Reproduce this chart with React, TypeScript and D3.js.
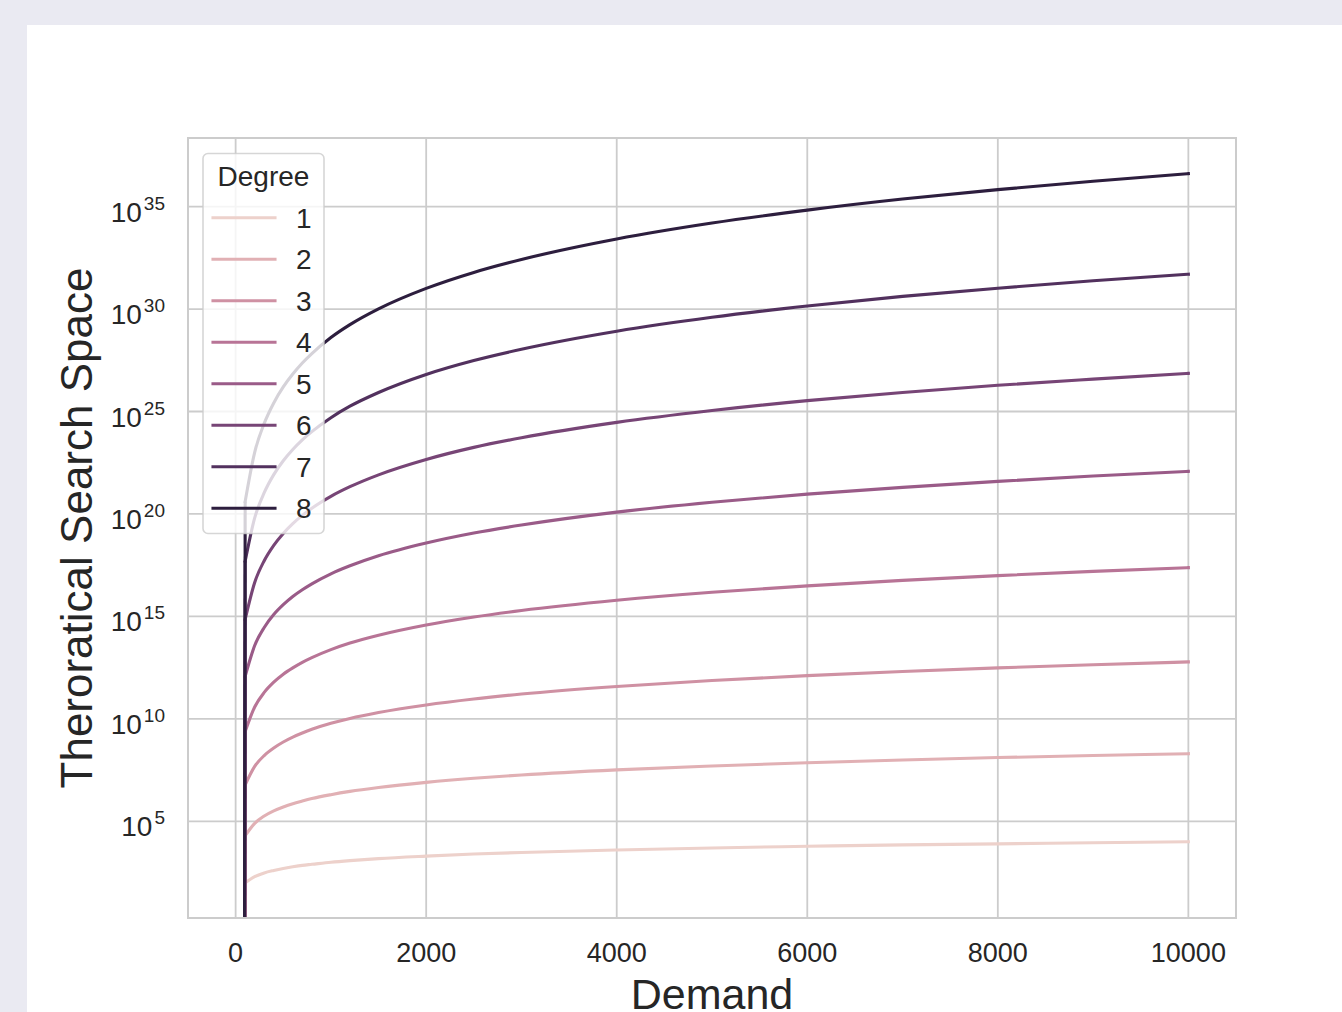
import React from "react";
import * as d3 from "d3";

// Demand values sampled along the x axis
const DEMAND = [0, 100, 200, 300, 400, 500, 600, 700, 800, 1000, 1200, 1500, 2000, 2500, 3000, 4000, 5000, 6000, 7000, 8000, 9000, 10000];

// log10(Theoretical search space); null = 0 (non-positive, clipped on the log axis)
const DEG1 = [null, 2.0, 2.3, 2.48, 2.6, 2.7, 2.78, 2.85, 2.9, 3.0, 3.08, 3.18, 3.3, 3.4, 3.48, 3.6, 3.7, 3.78, 3.85, 3.9, 3.95, 4.0];
const DEG2 = [null, 4.3, 4.9, 5.26, 5.51, 5.7, 5.86, 5.99, 6.11, 6.3, 6.46, 6.65, 6.9, 7.1, 7.26, 7.51, 7.7, 7.86, 7.99, 8.11, 8.21, 8.3];
const DEG3 = [null, 6.78, 7.68, 8.21, 8.58, 8.87, 9.11, 9.31, 9.49, 9.78, 10.02, 10.31, 10.68, 10.97, 11.21, 11.58, 11.87, 12.11, 12.31, 12.49, 12.64, 12.78];
const DEG4 = [null, 9.38, 10.58, 11.29, 11.79, 12.18, 12.49, 12.76, 12.99, 13.38, 13.7, 14.08, 14.58, 14.97, 15.29, 15.79, 16.18, 16.49, 16.76, 16.99, 17.2, 17.38];
const DEG5 = [null, 12.08, 13.58, 14.46, 15.09, 15.57, 15.97, 16.3, 16.59, 17.08, 17.47, 17.96, 18.58, 19.07, 19.46, 20.09, 20.57, 20.97, 21.3, 21.59, 21.85, 22.08];
const DEG6 = [null, 14.86, 16.66, 17.72, 18.47, 19.05, 19.53, 19.93, 20.28, 20.86, 21.33, 21.91, 22.66, 23.25, 23.72, 24.47, 25.05, 25.53, 25.93, 26.28, 26.58, 26.86];
const DEG7 = [null, 17.7, 19.81, 21.04, 21.92, 22.6, 23.15, 23.62, 24.02, 24.7, 25.26, 25.93, 26.81, 27.49, 28.04, 28.92, 29.6, 30.15, 30.62, 31.02, 31.38, 31.7];
const DEG8 = [null, 20.61, 23.01, 24.42, 25.42, 26.2, 26.83, 27.37, 27.83, 28.61, 29.24, 30.01, 31.01, 31.79, 32.42, 33.42, 34.2, 34.83, 35.37, 35.83, 36.24, 36.61];

const DEGREES = [1, 2, 3, 4, 5, 6, 7, 8];
const SERIES = [DEG1, DEG2, DEG3, DEG4, DEG5, DEG6, DEG7, DEG8];
const COLORS = ["#edd1cb", "#e1b0b4", "#cf91a3", "#b87496", "#9a5b88", "#774576", "#52315e", "#2d1e3e"];

const X_TICKS = [0, 2000, 4000, 6000, 8000, 10000];
const Y_TICK_EXPONENTS = [5, 10, 15, 20, 25, 30, 35];

const X_LABEL = "Demand";
const Y_LABEL = "Theroratical Search Space";
const LEGEND_TITLE = "Degree";

const FONT = "'Liberation Sans', Arial, Helvetica, sans-serif";
const TEXT = "#262626";
const GRID = "#cccccc";

export default function App() {
  const W = 1342;
  const H = 1012;
  const left = 188, right = 1236, top = 138, bottom = 918;

  const x = d3.scaleLinear().domain([-500, 10500]).range([left, right]);
  const y = d3.scaleLog().domain([Math.pow(10, 0.28), Math.pow(10, 38.35)]).range([bottom, top]);

  const yOf = (v: number | null) => (v === null ? y(1e-300) : y(Math.pow(10, v)));

  // the drop to a non-positive value is a straight segment; the rest is a smooth curve
  const dropLine = d3
    .line<[number, number | null]>()
    .x((d) => x(d[0]))
    .y((d) => yOf(d[1]))
    .curve(d3.curveLinear);
  const smoothLine = d3
    .line<[number, number | null]>()
    .x((d) => x(d[0]))
    .y((d) => yOf(d[1]))
    .curve(d3.curveMonotoneX);

  const legendX = 203, legendY = 153.5, legendW = 121, legendH = 380;

  return (
    <svg
      width={W}
      height={H}
      style={{ position: "absolute", left: 0, top: 0, display: "block" }}
      fontFamily={FONT}
    >
      <defs>
        <clipPath id="plot-clip">
          <rect x={left} y={top} width={right - left} height={bottom - top} />
        </clipPath>
      </defs>
      <rect x={0} y={0} width={W} height={H} fill="#eaeaf2" />
      <rect x={27} y={25} width={W - 27} height={H - 25} fill="#ffffff" />

      {/* grid */}
      <g stroke={GRID} strokeWidth={1.8}>
        {X_TICKS.map((t) => (
          <line key={"gx" + t} x1={x(t)} x2={x(t)} y1={top} y2={bottom} />
        ))}
        {Y_TICK_EXPONENTS.map((e) => (
          <line key={"gy" + e} x1={left} x2={right} y1={y(Math.pow(10, e))} y2={y(Math.pow(10, e))} />
        ))}
      </g>

      {/* lines */}
      <g clipPath="url(#plot-clip)" fill="none">
        {SERIES.map((s, i) => {
          const pts = DEMAND.map((dm, j) => [dm, s[j]] as [number, number | null]);
          const dropPts = pts.slice(0, 2);
          const restPts = pts.slice(1);
          return (
            <g key={"s" + i} stroke={COLORS[i]} strokeWidth={3.1} strokeLinejoin="round">
              <path d={dropLine(dropPts) || ""} strokeLinecap="butt" />
              <path d={smoothLine(restPts) || ""} strokeLinecap="square" />
            </g>
          );
        })}
      </g>

      {/* spines */}
      <rect x={left} y={top} width={right - left} height={bottom - top} fill="none" stroke={GRID} strokeWidth={2} />

      {/* x tick labels */}
      <g fontSize={27} fill={TEXT} textAnchor="middle">
        {X_TICKS.map((t) => (
          <text key={"xl" + t} x={x(t)} y={962}>
            {t}
          </text>
        ))}
      </g>

      {/* y tick labels */}
      <g fill={TEXT} textAnchor="end">
        {Y_TICK_EXPONENTS.map((e) => (
          <text key={"yl" + e} x={165} y={y(Math.pow(10, e)) + 15} fontSize={28}>
            <tspan>10</tspan>
            <tspan dx={2} dy={-12} fontSize={19}>
              {e}
            </tspan>
          </text>
        ))}
      </g>

      {/* axis labels */}
      <text x={(left + right) / 2} y={1009} textAnchor="middle" fontSize={43} fill={TEXT}>
        {X_LABEL}
      </text>
      <text
        transform={`translate(92, ${(top + bottom) / 2}) rotate(-90)`}
        textAnchor="middle"
        fontSize={44}
        fill={TEXT}
      >
        {Y_LABEL}
      </text>

      {/* legend */}
      <rect
        x={legendX}
        y={legendY}
        width={legendW}
        height={legendH}
        rx={5}
        ry={5}
        fill="#ffffff"
        fillOpacity={0.8}
        stroke={GRID}
        strokeOpacity={0.8}
        strokeWidth={1.6}
      />
      <text x={legendX + legendW / 2} y={186} textAnchor="middle" fontSize={28} fill={TEXT}>
        {LEGEND_TITLE}
      </text>
      {DEGREES.map((d, i) => {
        const cy = 217.7 + i * 41.5;
        return (
          <g key={"lg" + d}>
            <line x1={213} x2={275} y1={cy} y2={cy} stroke={COLORS[i]} strokeWidth={3.1} strokeLinecap="square" />
            <text x={296} y={cy + 9.8} fontSize={28} fill={TEXT}>
              {d}
            </text>
          </g>
        );
      })}
    </svg>
  );
}
